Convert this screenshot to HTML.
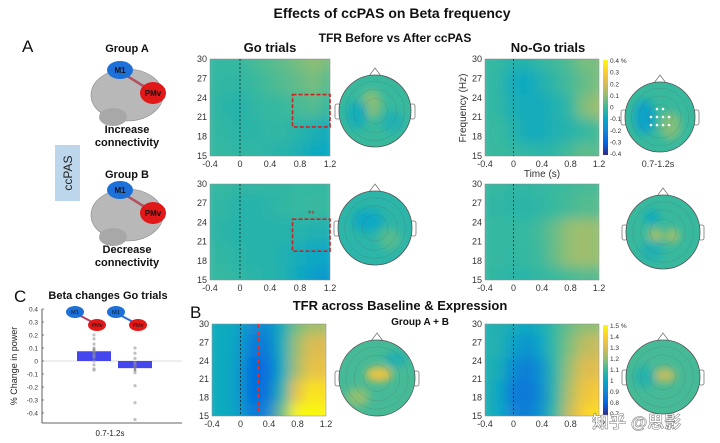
<!DOCTYPE html>
<html><head><meta charset="utf-8"><style>
body{margin:0;background:#fff}
svg{display:block;font-family:"Liberation Sans","Noto Sans CJK SC",sans-serif}
.t{font-size:9px;fill:#333}
.b{font-weight:bold;fill:#111}
</style></head><body>
<svg id="s" width="720" height="443" viewBox="0 0 720 443">
<defs>
<filter id="bl" x="-20%" y="-20%" width="140%" height="140%"><feGaussianBlur stdDeviation="6"/></filter>
<filter id="bl2" x="-50%" y="-50%" width="200%" height="200%"><feGaussianBlur stdDeviation="4"/></filter>
<linearGradient id="cbar" x1="0" y1="1" x2="0" y2="0">
<stop offset="0" stop-color="#352a87"/><stop offset=".125" stop-color="#0363e1"/><stop offset=".25" stop-color="#1485d4"/><stop offset=".375" stop-color="#06a7c6"/><stop offset=".5" stop-color="#38b99e"/><stop offset=".625" stop-color="#92bf73"/><stop offset=".75" stop-color="#d9ba56"/><stop offset=".875" stop-color="#fcce2e"/><stop offset="1" stop-color="#f9fb0e"/>
</linearGradient>
</defs>
<text x="392" y="18" text-anchor="middle" class="b" font-size="14">Effects of ccPAS on Beta frequency</text>
<text x="22" y="52" font-size="17" fill="#111">A</text>
<text x="14" y="302" font-size="17" fill="#111">C</text>
<text x="190" y="318" font-size="17" fill="#111">B</text>
<text x="395" y="42" text-anchor="middle" class="b" font-size="12">TFR Before vs After ccPAS</text>
<text x="270" y="52" text-anchor="middle" class="b" font-size="13">Go trials</text>
<text x="548" y="52" text-anchor="middle" class="b" font-size="13">No-Go trials</text>
<text x="400" y="310" text-anchor="middle" class="b" font-size="13">TFR across Baseline &amp; Expression</text>
<text x="420" y="325" text-anchor="middle" class="b" font-size="10">Group A + B</text>
<text x="127" y="52" text-anchor="middle" class="b" font-size="11">Group A</text>
<text x="127" y="133" text-anchor="middle" class="b" font-size="11">Increase</text>
<text x="127" y="146" text-anchor="middle" class="b" font-size="11">connectivity</text>
<text x="127" y="178" text-anchor="middle" class="b" font-size="11">Group B</text>
<text x="127" y="253" text-anchor="middle" class="b" font-size="11">Decrease</text>
<text x="127" y="266" text-anchor="middle" class="b" font-size="11">connectivity</text>
<rect x="55" y="145" width="25" height="56" fill="#bcd6ec"/>
<text transform="translate(72,173) rotate(-90)" text-anchor="middle" font-size="12" fill="#222">ccPAS</text>
<g id="brains"></g>
<g id="plots"></g>
<text x="592" y="428" font-size="17" font-weight="bold" fill="#fff" fill-opacity=".85" stroke="#777" stroke-width=".5">知乎 @思影</text>
</svg>
<script>
const NS="http://www.w3.org/2000/svg";
const svg=document.getElementById('s');
function mk(tag,attrs,parent){const e=document.createElementNS(NS,tag);for(const k in attrs)e.setAttribute(k,attrs[k]);(parent||svg).appendChild(e);return e;}
const stops=[[53,42,135],[3,99,225],[20,133,212],[6,167,198],[56,185,158],[146,191,115],[217,186,86],[252,206,46],[249,251,14]];
function parula(v){v=Math.max(0,Math.min(1,v));const p=v*8,i=Math.min(7,Math.floor(p)),f=p-i;const a=stops[i],b=stops[i+1];return `rgb(${a.map((c,j)=>Math.round(c+(b[j]-c)*f)).join(',')})`;}

// ===== data =====
const timeCols=[-0.4,-0.2,0,0.2,0.4,0.6,0.8,1.0,1.2];
const freqRows=[30,26.25,22.5,18.75,15];
const timeTicks=[-0.4,0,0.4,0.8,1.2];
const freqTicks=[30,27,24,21,18,15];
const goTop=[[.49,.49,.49,.52,.54,.56,.59,.62,.59],[.49,.48,.48,.5,.52,.54,.56,.59,.54],[.49,.47,.46,.48,.49,.5,.52,.54,.49],[.49,.48,.47,.47,.48,.48,.46,.43,.41],[.49,.49,.48,.48,.47,.46,.43,.39,.38]];
const noGoTop=[[.49,.49,.46,.46,.49,.51,.54,.59,.59],[.49,.48,.41,.39,.44,.48,.52,.56,.59],[.49,.48,.43,.41,.41,.44,.48,.6,.64],[.49,.5,.46,.41,.41,.44,.46,.49,.52],[.5,.5,.49,.48,.47,.48,.52,.56,.54]];
const goMid=[[.49,.49,.48,.48,.48,.48,.49,.49,.49],[.48,.48,.46,.46,.47,.48,.49,.5,.49],[.48,.47,.46,.46,.46,.46,.46,.44,.44],[.49,.48,.47,.46,.46,.44,.41,.38,.37],[.49,.49,.48,.47,.46,.44,.39,.34,.32]];
const noGoMid=[[.49,.49,.48,.48,.49,.5,.51,.52,.52],[.48,.48,.47,.47,.48,.5,.52,.54,.54],[.49,.49,.49,.49,.52,.57,.63,.65,.63],[.49,.49,.48,.49,.51,.57,.63,.65,.63],[.49,.48,.47,.47,.49,.5,.52,.54,.54]];
const baseGo=[[.4,.4,.36,.26,.28,.42,.58,.65,.65],[.4,.4,.34,.2,.23,.42,.64,.76,.76],[.4,.4,.32,.15,.17,.4,.66,.8,.8],[.4,.4,.32,.15,.2,.46,.8,.94,.92],[.4,.4,.34,.2,.26,.58,.98,1,.98]];
const baseNoGo=[[.44,.44,.42,.38,.42,.5,.57,.62,.62],[.44,.44,.36,.3,.37,.5,.6,.7,.72],[.44,.42,.28,.22,.3,.48,.64,.77,.77],[.44,.38,.22,.2,.28,.48,.68,.82,.85],[.44,.38,.25,.22,.3,.5,.72,.88,.92]];
const cbarTop=["0.4 %","0.3","0.2","0.1","0","-0.1","-0.2","-0.3","-0.4"];
const cbarBot=["1.5 %","1.4","1.3","1.2","1.1","1","0.9","0.8","0.7"];
const barCats=["Group A","Group B"];
const barVals=[0.075,-0.055];
const barErr=[0.02,0.025];
const ptsA=[0.2,0.17,0.13,0.1,0.09,0.08,0.07,0.05,0.03,0.0,-0.03,-0.06,-0.07];
const ptsB=[0.1,0.06,0.02,-0.01,-0.03,-0.05,-0.07,-0.09,-0.19,-0.32,-0.45];
const barTicks=[0.4,0.3,0.2,0.1,0,-0.1,-0.2,-0.3,-0.4];

// ===== heatmap =====
let cid=0;
function heatmap(grid,x0,y0,w,h,name,opt){
  const g=mk('g',{},document.getElementById('plots'));
  
  
  const xs=t=>x0+(t+0.4)/1.6*w, ys=f=>y0+(30-f)/15*h;
  const id='c'+(cid++);
  const cp=mk('clipPath',{id},g);mk('rect',{x:x0,y:y0,width:w,height:h},cp);
  const inner=mk('g',{'clip-path':`url(#${id})`},g);
  const fg=mk('g',{filter:'url(#bl)'},inner);
  const dt=0.2,df=3.75;
  grid.forEach((row,r)=>row.forEach((v,c)=>{
    const rc=mk('rect',{x:xs(timeCols[c]-dt/2)-1,y:ys(freqRows[r]+df/2)-1,width:xs(dt)-xs(0)+2,height:ys(0)-ys(df)+2,fill:parula(v)},fg);
    
    
  }));
  mk('rect',{x:x0,y:y0,width:w,height:h,fill:'none',stroke:'#888','stroke-width':.5},g);
  mk('line',{x1:xs(0),x2:xs(0),y1:y0,y2:y0+h,stroke:'#222','stroke-dasharray':'2,2','stroke-width':.8},g);
  freqTicks.forEach(f=>{const t=mk('text',{x:x0-3,y:ys(f)+3,'text-anchor':'end',class:'t'},g);t.textContent=f;});
  timeTicks.forEach(tk=>{const t=mk('text',{x:xs(tk),y:y0+h+11,'text-anchor':'middle',class:'t'},g);t.textContent=tk;});
  if(opt&&opt.box){const b=opt.box;mk('rect',{x:xs(b[0]),y:ys(b[3]),width:xs(b[1])-xs(b[0]),height:ys(b[2])-ys(b[3]),fill:'none',stroke:'#d02020','stroke-width':1.6,'stroke-dasharray':'4,2'},g);}
  if(opt&&opt.star){const s=mk('text',{x:xs(0.95),y:ys(opt.box[3])-2,'text-anchor':'middle','font-size':9,fill:'#d02020'},g);s.textContent='**';}
  if(opt&&opt.vline!==undefined){mk('line',{x1:xs(opt.vline),x2:xs(opt.vline),y1:y0,y2:y0+h,stroke:'#e03030','stroke-width':1.5,'stroke-dasharray':'4,3'},g);}
  if(opt&&opt.cbar){
    const cb=mk('g',{},g);
    
    
    mk('rect',{x:x0+w+4,y:y0+1,width:5,height:h-2,fill:'url(#cbar)'},cb);
    opt.cbar.forEach((l,i)=>{const t=mk('text',{x:x0+w+11,y:y0+4+i*(h-4)/8,'font-size':6.5,fill:'#333'},cb);t.textContent=l;});
  }
  return g;
}
heatmap(goTop,210,59,120,97,'go-trials-tfr-group-a',{box:[0.7,1.2,19.5,24.5]});
heatmap(noGoTop,485,59,114,97,'nogo-trials-tfr-group-a',{cbar:cbarTop});
heatmap(goMid,210,184,120,96,'go-trials-tfr-group-b',{box:[0.7,1.2,19.5,24.5],star:true});
heatmap(noGoMid,485,184,114,96,'nogo-trials-tfr-group-b');
heatmap(baseGo,212,324,114,92,'baseline-go-tfr',{vline:0.25});
heatmap(baseNoGo,485,324,114,92,'baseline-nogo-tfr',{cbar:cbarBot});
let ax=mk('text',{transform:'translate(466,108) rotate(-90)','text-anchor':'middle','font-size':10,fill:'#333'});ax.textContent='Frequency (Hz)';

ax=mk('text',{x:542,y:177,'text-anchor':'middle','font-size':10,fill:'#333'});ax.textContent='Time (s)';


// ===== topos =====
function topo(cx,cy,r,base,blobs,name,dots){
  const g=mk('g',{},document.getElementById('plots'));
  
  
  mk('path',{d:`M${cx-6} ${cy-r+1} L${cx} ${cy-r-7} L${cx+6} ${cy-r+1}`,fill:'#fff',stroke:'#777','stroke-width':.8},g);
  mk('rect',{x:cx-r-4,y:cy-7,width:5,height:15,rx:2,fill:'#fff',stroke:'#777','stroke-width':.8},g);
  mk('rect',{x:cx+r-1,y:cy-7,width:5,height:15,rx:2,fill:'#fff',stroke:'#777','stroke-width':.8},g);
  const id='c'+(cid++);const cp=mk('clipPath',{id},g);mk('circle',{cx,cy,r},cp);
  const inner=mk('g',{'clip-path':`url(#${id})`},g);
  mk('circle',{cx,cy,r,fill:parula(base)},inner);
  const bg=mk('g',{filter:'url(#bl2)'},inner);
  blobs.forEach(b=>mk('ellipse',{cx:cx+b[0]*r,cy:cy+b[1]*r,rx:b[2]*r,ry:b[3]*r,fill:parula(b[4])},bg));
  [0.35,0.6,0.82].forEach(k=>mk('circle',{cx,cy,r:r*k,fill:'none',stroke:'#555','stroke-opacity':.3,'stroke-width':.5},inner));
  mk('circle',{cx,cy,r,fill:'none',stroke:'#555','stroke-width':.8},g);
  if(dots){for(let i=0;i<3;i++)for(let j=0;j<4;j++){if(i==0&&(j==0||j==3))continue;mk('circle',{cx:cx-9+j*6,cy:cy-8+i*8,r:1.3,fill:'#fff'},g);}}
}
topo(375,111,36,.5,[[-0.1,-0.2,.3,.4,.6],[-0.5,0.1,.3,.4,.42],[0.5,0.3,.3,.3,.44]],'topo-go-group-a');
topo(660,117,35,.5,[[-0.45,0,.3,.5,.36],[0.3,0.25,.3,.4,.6]],'topo-nogo-group-a',true);
let tl=mk('text',{x:658,y:167,'text-anchor':'middle','font-size':9,fill:'#333'});tl.textContent='0.7-1.2s';

topo(375,228,37,.47,[[-0.2,-0.2,.4,.3,.38],[0.4,0.3,.3,.3,.54]],'topo-go-group-b');
topo(663,232,37,.5,[[-0.3,-0.4,.2,.2,.4],[-0.2,0.1,.2,.2,.66],[0.25,0.1,.2,.2,.64],[-0.3,0.5,.3,.3,.44]],'topo-nogo-group-b');
topo(377,378,38,.52,[[0.05,-0.1,.35,.2,.8],[-0.5,0.5,.3,.25,.62],[0.5,-0.5,.3,.2,.44]],'topo-baseline-go');
topo(663,377,37,.52,[[0.05,-0.05,.3,.2,.7],[-0.5,0,.3,.3,.46]],'topo-baseline-nogo');

// ===== brains =====
function brain(cx,cy,name,lineCol){
  const g=mk('g',{},document.getElementById('brains'));
  
  
  mk('ellipse',{cx:cx,cy:cy,rx:36,ry:26,fill:'#b8b8b8',stroke:'#888','stroke-width':.6},g);
  mk('ellipse',{cx:cx-14,cy:cy+22,rx:14,ry:9,fill:'#a8a8a8'},g);
  mk('line',{x1:cx-8,y1:cy-24,x2:cx+26,y2:cy-3,stroke:lineCol,'stroke-width':2.5},g);
  mk('ellipse',{cx:cx-7,cy:cy-25,rx:13,ry:9,fill:'#1d70d8'},g);
  let t=mk('text',{x:cx-7,y:cy-22,'text-anchor':'middle','font-size':8,'font-weight':'bold',fill:'#111'},g);t.textContent='M1';
  mk('ellipse',{cx:cx+26,cy:cy-2,rx:13,ry:11,fill:'#e01818'},g);
  t=mk('text',{x:cx+26,y:cy+1,'text-anchor':'middle','font-size':8,'font-weight':'bold',fill:'#111'},g);t.textContent='PMv';
}
brain(127,95,'brain-group-a','#b05060');
brain(127,215,'brain-group-b','#b05060');

// ===== bar chart =====
const bc=mk('g',{},document.getElementById('plots'));


let bt=mk('text',{x:108,y:299,'text-anchor':'middle','font-size':11,'font-weight':'bold',fill:'#111'},bc);bt.textContent='Beta changes Go trials';
const yb=v=>361-v*130;
mk('line',{x1:42,x2:42,y1:yb(0.4),y2:423,stroke:'#333','stroke-width':.8},bc);
mk('line',{x1:42,x2:182,y1:423,y2:423,stroke:'#333','stroke-width':.8},bc);
mk('line',{x1:42,x2:182,y1:yb(0),y2:yb(0),stroke:'#bbb','stroke-width':.6},bc);
barTicks.forEach(v=>{const t=mk('text',{x:38,y:yb(v)+2.5,'text-anchor':'end','font-size':6.5,fill:'#333'},bc);t.textContent=v;mk('line',{x1:42,x2:44,y1:yb(v),y2:yb(v),stroke:'#333','stroke-width':.6},bc);});
bt=mk('text',{transform:'translate(17,366) rotate(-90)','text-anchor':'middle','font-size':9,fill:'#222'},bc);bt.textContent='% Change in power';
bt=mk('text',{x:110,y:436,'text-anchor':'middle','font-size':8,fill:'#222'},bc);bt.textContent='0.7-1.2s';
const barX=[77,118];
barVals.forEach((v,i)=>{
  const r=mk('rect',{x:barX[i],y:Math.min(yb(v),yb(0)),width:34,height:Math.abs(yb(v)-yb(0)),fill:'#4646ee'},bc);
  
  
  mk('line',{x1:barX[i]+17,x2:barX[i]+17,y1:yb(v+barErr[i]),y2:yb(v-barErr[i]),stroke:'#111','stroke-width':1},bc);
  (i==0?ptsA:ptsB).forEach(p=>{const c=mk('circle',{cx:barX[i]+17,cy:yb(p),r:1.6,fill:'#999','fill-opacity':.6},bc);});
  const bx=barX[i]-8;
  mk('line',{x1:bx+6,y1:313,x2:bx+27,y2:324,stroke:i==0?'#b04060':'#2a6cd8','stroke-width':2},bc);
  mk('ellipse',{cx:bx+6,cy:312,rx:9,ry:6,fill:'#1d70d8'},bc);
  mk('ellipse',{cx:bx+28,cy:325,rx:9,ry:6,fill:'#e01818'},bc);
  let t=mk('text',{x:bx+6,y:314,'text-anchor':'middle','font-size':5.5,fill:'#111'},bc);t.textContent='M1';
  t=mk('text',{x:bx+28,y:327,'text-anchor':'middle','font-size':5.5,fill:'#111'},bc);t.textContent='PMv';
});
</script>
</body></html>
